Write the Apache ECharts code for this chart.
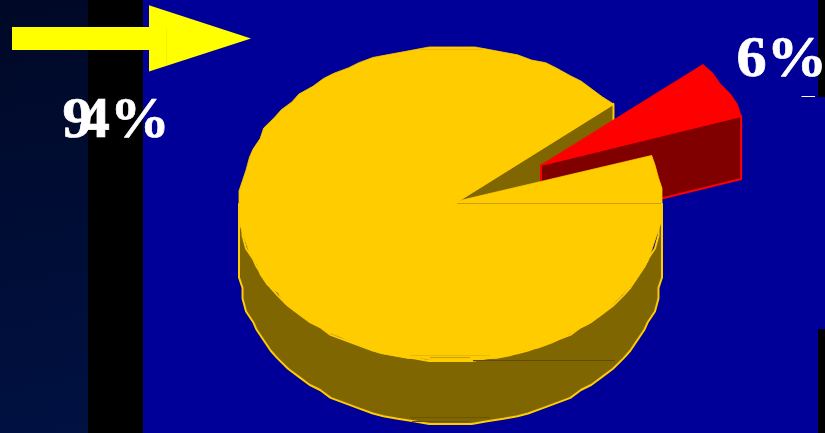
<!DOCTYPE html>
<html>
<head>
<meta charset="utf-8">
<style>html,body{margin:0;padding:0;background:#000099}#chart{width:825px;height:433px}</style>
<script src="https://cdn.jsdelivr.net/npm/echarts@6/dist/echarts.min.js"></script>
</head>
<body>
<div id="chart"></div>
<script>
// Share of each slice, in percent
var sliceValues = [94, 6];
var sliceColors = ['#FFCC00', '#FF0000'];
var sliceShades = ['#806600', '#800000'];

// Projection of the tilted disc; the rim is snapped to a coarse grid (gridX, gridY)
var disc = { cx: 450.5, cy: 204, rx: 211.5, ry: 157, depth: 63, apexX: 458, apexY: 201, step: 4, gridX: 3.525, gridY: 2.617 };
var firstAngle = 18;                 // where the small slice begins, degrees counter-clockwise from east
var pulledOut = { rimX: 89.5, rimY: -39.5, apexX: 83, apexY: -36 };

var smallStart = firstAngle;
var smallEnd = firstAngle + sliceValues[1] * 3.6;
var bigStart = smallEnd;
var bigEnd = bigStart + sliceValues[0] * 3.6;

function rimPoint(deg, dx, dy, snap) {
  var t = deg * Math.PI / 180;
  var ox = disc.rx * Math.cos(t);
  var oy = disc.ry * Math.sin(t);
  if (snap) {
    ox = Math.round(ox / disc.gridX) * disc.gridX;
    oy = Math.round(oy / disc.gridY) * disc.gridY;
  }
  return [disc.cx + ox + dx, disc.cy - oy + dy];
}
function rimArc(from, to, dx, dy) {
  var pts = [];
  var n = Math.max(1, Math.round((to - from) / disc.step));
  for (var i = 0; i <= n; i++) {
    pts.push(rimPoint(from + (to - from) * i / n, dx, dy, i > 0 && i < n));
  }
  return pts;
}
function poly(points, fill, stroke, width) {
  return {
    type: 'polygon',
    shape: { points: points },
    style: { fill: fill, stroke: stroke || null, lineWidth: width || 0, lineJoin: 'round' }
  };
}

// Side walls of the large slice: outer band and the cut face in the notch
function renderBigWalls(params, api) {
  var upper = rimArc(180, 360, 0, 0);
  var lower = rimArc(180, 360, 0, disc.depth).reverse();
  var rimTop = rimPoint(bigStart, 0, 0);
  var cut = [[disc.apexX, disc.apexY], rimTop, [rimTop[0], rimTop[1] + disc.depth], [disc.apexX, disc.apexY + disc.depth]];
  return {
    type: 'group',
    children: [
      poly(upper.concat(lower), sliceShades[0], sliceColors[0], 2),
      poly(cut, sliceShades[0], sliceColors[0], 2)
    ]
  };
}

// The pulled-out slice: cut face and top surface
function renderSmallSlice(params, api) {
  var span = api.value(0) * 3.6;
  var start = smallStart, end = start + span;
  var apex = [disc.apexX + pulledOut.apexX, disc.apexY + pulledOut.apexY];
  var rimLow = rimPoint(start, pulledOut.rimX, pulledOut.rimY);
  var wall = [apex, rimLow, [rimLow[0], rimLow[1] + disc.depth], [apex[0], apex[1] + disc.depth]];
  return {
    type: 'group',
    children: [
      poly(wall, sliceShades[1], sliceColors[1], 2),
      poly([apex].concat(rimArc(start, end, pulledOut.rimX, pulledOut.rimY)), sliceColors[1], sliceColors[1], 0.8)
    ]
  };
}

// Top surface of the large slice
function renderBigTop(params, api) {
  var span = api.value(0) * 3.6;
  return poly([[disc.apexX, disc.apexY]].concat(rimArc(bigStart, bigStart + span, 0, 0)), sliceColors[0], sliceColors[0], 0.8);
}

function layer(renderer, value, z) {
  return {
    type: 'custom',
    coordinateSystem: 'none',
    silent: true,
    animation: false,
    z: z,
    data: [[value]],
    renderItem: renderer
  };
}

function seam(x1, x2, y, color) {
  return { type: 'line', z: 50, shape: { x1: x1, y1: y, x2: x2, y2: y }, style: { stroke: color, lineWidth: 1 } };
}

var serif = '"Liberation Serif", "Times New Roman", serif';
var labelFont = 'bold 58px ' + serif;
var bigLabel = String(sliceValues[0]) + '%';
var smallLabel = String(sliceValues[1]) + '%';

var chart = echarts.init(document.getElementById('chart'), null, { renderer: 'canvas' });
chart.setOption({
  animation: false,
  backgroundColor: '#000099',
  series: [
    layer(renderBigWalls, sliceValues[0], 2),
    layer(renderSmallSlice, sliceValues[1], 3),
    layer(renderBigTop, sliceValues[0], 4)
  ],
  graphic: {
    elements: [
      // Backdrop bands
      { type: 'rect', z: 0, shape: { x: 0, y: 0, width: 88, height: 433 },
        style: { fill: new echarts.graphic.LinearGradient(0, 0, 1, 1, [
          { offset: 0, color: '#000826' }, { offset: 1, color: '#001142' }
        ]) } },
      { type: 'rect', z: 0, shape: { x: 88, y: 0, width: 55, height: 433 }, style: { fill: '#000000' } },
      { type: 'rect', z: 0, shape: { x: 818, y: 0, width: 7, height: 97 }, style: { fill: '#000000' } },
      { type: 'rect', z: 0, shape: { x: 818, y: 329, width: 7, height: 104 }, style: { fill: '#000000' } },
      { type: 'rect', z: 0, shape: { x: 801.5, y: 96, width: 13.5, height: 1 }, style: { fill: '#FFFFFF' } },

      // Arrow pointing at the pie
      { type: 'polygon', z: 1,
        shape: { points: [[12, 27], [149, 27], [149, 5.3], [251, 38.4], [149, 71.5], [149, 50], [12, 50]] },
        style: { fill: '#FFFF00' } },
      { type: 'line', z: 1, shape: { x1: 166.5, y1: 28, x2: 166.5, y2: 65 }, style: { stroke: '#F2F200', lineWidth: 1 } },

      // Hairlines on the disc
      seam(457, 661, 203.5, '#CC9E10'),
      seam(473, 615, 360.5, '#5C4B10'),
      seam(410, 490, 355.5, '#E8B800'),
      seam(430, 470, 357.5, '#C9A000'),
      seam(410, 490, 417.5, '#6B5500'),
      seam(412, 470, 421.5, '#6B5500'),
      seam(420, 482, 49.5, '#E6B800'),

      // Value labels
      { type: 'text', z: 60, x: 62.5, y: 93.5, scaleX: 1.03,
        style: {
          text: '{lead|' + bigLabel.charAt(0) + '}{rest|' + bigLabel.slice(1) + '}',
          rich: {
            lead: { font: labelFont, fill: '#FFFFFF', stroke: '#FFFFFF', lineWidth: 0.7, width: 17, align: 'left' },
            rest: { font: labelFont, fill: '#FFFFFF', stroke: '#FFFFFF', lineWidth: 0.7 }
          }
        } },
      { type: 'text', z: 60, x: 736.5, y: 32, scaleX: 1.04,
        style: { text: smallLabel, font: labelFont, fill: '#FFFFFF', stroke: '#FFFFFF', lineWidth: 0.7 } }
    ]
  }
});
</script>
</body>
</html>
